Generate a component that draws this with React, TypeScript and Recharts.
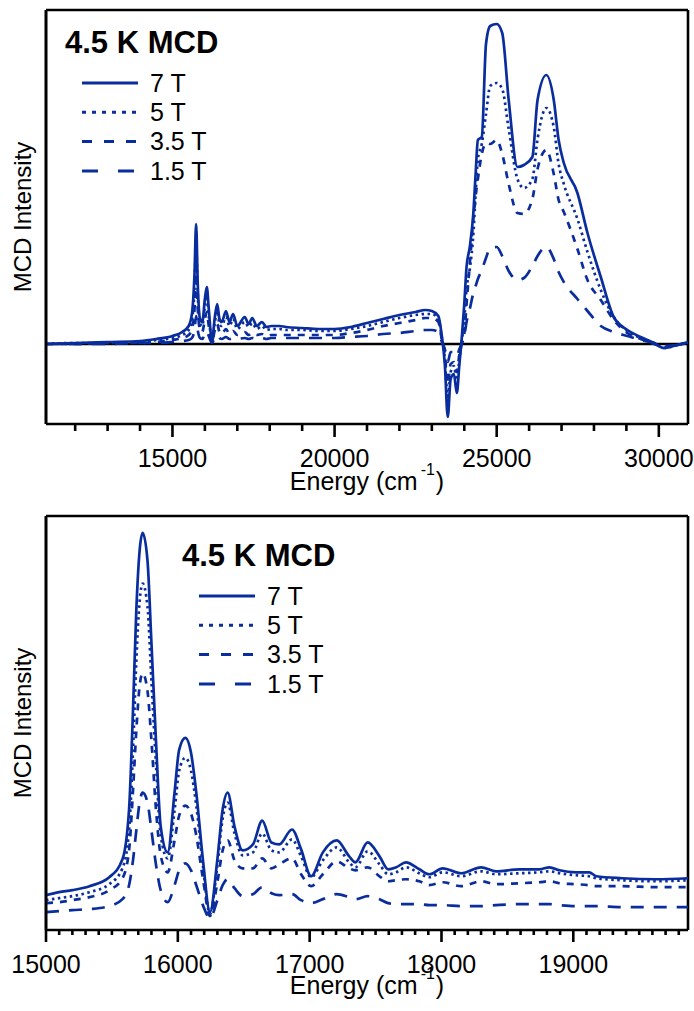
import { LineChart, Line, XAxis, YAxis, ReferenceLine, Legend } from 'recharts';

const FONT = '"Liberation Sans", Arial, sans-serif';
const BLUE = '#0a2d9e';

// upper panel, full range (cm-1) – intensity in arbitrary units, 0 = baseline
const topEnergy = [
  11100, 12000, 13000, 14000, 14500, 15000, 15300, 15500, 15600, 15680,
  15730, 15780, 15850, 15920, 16000, 16060, 16120, 16220, 16300, 16380,
  16450, 16520, 16650, 16760, 16870, 17000, 17230, 17350, 17460, 17600,
  17760, 17900, 18050, 18300, 18500, 19000, 19500, 20000, 20500, 21000,
  21500, 22000, 22500, 22800, 23000, 23200, 23300, 23400, 23490, 23580,
  23680, 23770, 23850, 23920, 24000, 24070, 24170, 24280, 24350, 24420,
  24540, 24670, 24800, 25000, 25170, 25370, 25640, 25840, 26100, 26260,
  26530, 26760, 26910, 27070, 27490, 27800, 28210, 28610, 29030, 29440,
  29850, 30150, 30570, 30900,
];
const top7T = [
  0, 1, 2, 3, 5, 8, 12, 18, 30, 70,
  120, 60, 25, 22, 45, 57, 35, 2, 25, 40,
  25, 22, 33, 22, 30, 18, 27, 20, 26, 18,
  22, 17, 18, 18, 17, 16, 15, 15, 17, 21,
  25, 29, 32, 34, 33, 28, 10, -20, -73, -35,
  -30, -49, -20, 5, 40, 77, 97, 131, 170, 204,
  207, 300, 318, 320, 311, 244, 177, 179, 187, 244,
  269, 244, 204, 181, 151, 111, 67, 27, 14, 7,
  1, -4, -1, 2,
];
const top5T = [
  0, 1, 1, 2, 4, 6, 9, 14, 24, 55,
  100, 50, 20, 18, 38, 48, 28, 2, 20, 33,
  20, 18, 27, 18, 25, 15, 22, 17, 21, 15,
  18, 14, 15, 15, 14, 14, 13, 13, 15, 18,
  22, 26, 29, 30, 30, 25, 8, -15, -55, -28,
  -22, -36, -15, 2, 25, 55, 75, 110, 150, 185,
  200, 230, 258, 261, 255, 215, 165, 156, 165, 205,
  236, 217, 180, 160, 125, 92, 54, 27, 13, 6,
  1, -4, -1, 2,
];
const top35T = [
  0, 0, 1, 1, 2, 4, 6, 9, 15, 35,
  70, 35, 14, 12, 25, 32, 18, 2, 13, 20,
  12, 10, 15, 10, 13, 9, 12, 9, 11, 9,
  10, 8, 9, 9, 9, 9, 9, 9, 11, 14,
  18, 21, 24, 26, 26, 22, 6, -10, -40, -20,
  -18, -28, -10, 1, 10, 40, 80, 125, 148, 165,
  190, 201, 200, 204, 190, 160, 131, 130, 145, 175,
  194, 170, 144, 132, 95, 64, 44, 24, 11, 5,
  0, -3, -1, 1,
];
const top15T = [
  0, 0, 0, 1, 1, 2, 3, 4, 6, 14,
  28, 14, 6, 5, 10, 13, 8, 1, 6, 9,
  6, 5, 7, 5, 6, 5, 6, 5, 6, 5,
  6, 5, 6, 6, 6, 6, 6, 6, 7, 8,
  10, 11, 13, 14, 14, 12, 3, -5, -18, -8,
  -8, -12, -5, 0, 8, 22, 35, 51, 58, 65,
  74, 86, 96, 97, 88, 73, 64, 66, 78, 88,
  97, 85, 72, 62, 45, 33, 18, 12, 8, 4,
  1, -2, -1, 0,
];

// lower panel, zoom on the 15000-20000 cm-1 progression
const bottomEnergy = [
  15000, 15100, 15200, 15330, 15480, 15580, 15630, 15660, 15685, 15710,
  15733, 15770, 15800, 15835, 15870, 15923, 15975, 16010, 16057, 16100,
  16140, 16190, 16244, 16300, 16340, 16378, 16430, 16492, 16570, 16640,
  16710, 16770, 16866, 16935, 17011, 17100, 17205, 17300, 17347, 17440,
  17530, 17595, 17656, 17731, 17832, 17908, 18009, 18150, 18300, 18414,
  18590, 18743, 18819, 18895, 19020, 19120, 19175, 19370, 19630, 19870,
];
const bottom7T = [
  35, 38, 40, 44, 53, 71, 121, 221, 321, 381,
  399, 371, 288, 188, 104, 78, 138, 181, 193, 178,
  138, 71, 18, 71, 121, 138, 104, 80, 86, 110,
  88, 86, 101, 81, 54, 78, 90, 74, 68, 88,
  74, 61, 63, 68, 61, 56, 62, 57, 63, 59,
  61, 61, 63, 60, 58, 58, 54, 52, 51, 52,
];
const bottom5T = [
  30, 32, 34, 38, 46, 62, 100, 180, 270, 330,
  348, 325, 250, 165, 95, 72, 120, 160, 173, 160,
  125, 65, 16, 65, 112, 128, 97, 75, 78, 97,
  80, 78, 91, 74, 53, 70, 83, 68, 63, 79,
  66, 56, 58, 63, 57, 53, 58, 54, 59, 56,
  57, 58, 59, 57, 55, 54, 52, 50, 49, 50,
];
const bottom35T = [
  27, 28, 30, 33, 40, 52, 80, 140, 200, 245,
  258, 240, 190, 120, 75, 58, 90, 115, 125, 117,
  95, 52, 14, 48, 80, 90, 70, 62, 62, 72,
  62, 66, 72, 56, 44, 56, 69, 62, 60, 63,
  54, 49, 50, 51, 49, 45, 48, 44, 49, 46,
  47, 48, 49, 47, 46, 45, 44, 44, 43, 43,
];
const bottom15T = [
  18, 19, 20, 21, 24, 31, 45, 70, 100, 128,
  138, 128, 100, 65, 40, 28, 45, 60, 67, 60,
  45, 25, 12, 30, 45, 51, 42, 34, 36, 43,
  37, 35, 36, 30, 27, 31, 36, 33, 31, 34,
  31, 27, 26, 26, 26, 25, 25, 24, 24, 25,
  26, 26, 26, 25, 24, 24, 24, 23, 23, 23,
];

const topMajorTicks = [15000, 20000, 25000, 30000];
const bottomMajorTicks = [15000, 16000, 17000, 18000, 19000];
const topTicks = Array.from({ length: 19 }, (_, i) => 12000 + i * 1000);
const bottomTicks = Array.from({ length: 49 }, (_, i) => 15000 + i * 100);

const SERIES = [
  { key: 't7', name: '7 T', dash: undefined, legendDash: undefined },
  { key: 't5', name: '5 T', dash: '2.5 3.5', legendDash: '4 6' },
  { key: 't35', name: '3.5 T', dash: '7 7', legendDash: '10 12' },
  { key: 't15', name: '1.5 T', dash: '13 10', legendDash: '16 20' },
];

const buildRows = (energy: number[], cols: number[][]) =>
  energy.map((e, i) => ({
    energy: e,
    t7: cols[0][i],
    t5: cols[1][i],
    t35: cols[2][i],
    t15: cols[3][i],
  }));

const topData = buildRows(topEnergy, [top7T, top5T, top35T, top15T]);
const bottomData = buildRows(bottomEnergy, [bottom7T, bottom5T, bottom35T, bottom15T]);

const EnergyTick = (props: any) => {
  const { x, y, payload, majors, majorLen, minorLen } = props;
  const isMajor = majors.includes(payload.value);
  return (
    <g>
      <line x1={x} x2={x} y1={y} y2={y + (isMajor ? majorLen : minorLen)} stroke='#000' strokeWidth={2.6} />
      {isMajor && (
        <text x={x} y={y + 43} textAnchor='middle' fontSize={25} fontFamily={FONT} fill='#000'>
          {payload.value}
        </text>
      )}
    </g>
  );
};

const makeEnergyLabel = (offset: number) => (props: any) => {
  const { x, y, width } = props.viewBox;
  return (
    <text x={x + width / 2} y={y + offset} textAnchor='middle' fontSize={25} fontFamily={FONT} fill='#000'>
      Energy (cm
      <tspan fontSize={16} dy={-15} dx={3}>-1</tspan>
      <tspan dy={15} dx={1}>)</tspan>
    </text>
  );
};

const IntensityLabel = (props: any) => {
  const { x, y, width, height } = props.viewBox;
  const cx = x + width - 24;
  const cy = y + height / 2;
  return (
    <text
      x={cx}
      y={cy}
      transform={`rotate(-90, ${cx}, ${cy})`}
      textAnchor='middle'
      dominantBaseline='central'
      fontSize={24}
      fontFamily={FONT}
      fill='#000'
    >
      MCD Intensity
    </text>
  );
};

const LegendBox = () => (
  <svg width={220} height={165} style={{ display: 'block' }}>
    <text x={5} y={31} fontSize={31} fontWeight='bold' fontFamily={FONT} fill='#000'>
      4.5 K MCD
    </text>
    {SERIES.map((s, i) => {
      const y = 61 + i * 29.3;
      return (
        <g key={s.key}>
          <line x1={22} x2={78} y1={y} y2={y} stroke={BLUE} strokeWidth={3} strokeDasharray={s.legendDash} />
          <text x={90} y={y} dy='0.35em' fontSize={25} fontFamily={FONT} fill='#000'>
            {s.name}
          </text>
        </g>
      );
    })}
  </svg>
);

type PanelProps = {
  data: any[];
  height: number;
  xDomain: [number, number];
  yDomain: [number, number];
  ticks: number[];
  majors: number[];
  majorLen: number;
  minorLen: number;
  titleOffset: number;
  legendLeft: number;
  legendTop: number;
  zeroLine?: boolean;
};

function Panel({
  data, height, xDomain, yDomain, ticks, majors, majorLen, minorLen, titleOffset, legendLeft, legendTop, zeroLine,
}: PanelProps) {
  const frame = { stroke: '#000', strokeWidth: 2.6 };
  return (
    <LineChart width={694} height={height} data={data} margin={{ top: 10, right: 6, bottom: 0, left: 6 }}>
      <XAxis
        dataKey='energy'
        type='number'
        domain={xDomain}
        allowDataOverflow
        ticks={ticks}
        interval={0}
        height={height - 10 - 414}
        tickLine={false}
        tickSize={0}
        tickMargin={0}
        axisLine={frame}
        tick={<EnergyTick majors={majors} majorLen={majorLen} minorLen={minorLen} />}
        label={makeEnergyLabel(titleOffset)}
      />
      <YAxis
        type='number'
        domain={yDomain}
        allowDataOverflow
        width={40}
        tick={false}
        tickLine={false}
        axisLine={frame}
        label={IntensityLabel}
      />
      {/* closing frame of the plot box */}
      <ReferenceLine x={xDomain[0]} stroke='#000' strokeWidth={2.6} />
      <ReferenceLine x={xDomain[1]} stroke='#000' strokeWidth={2.6} />
      <ReferenceLine y={yDomain[1]} stroke='#000' strokeWidth={2.6} />
      {zeroLine && <ReferenceLine y={0} stroke='#000' strokeWidth={2.5} />}
      {[...SERIES].reverse().map((s) => (
        <Line
          key={s.key}
          dataKey={s.key}
          name={s.name}
          type='monotone'
          stroke={BLUE}
          strokeWidth={2.7}
          strokeDasharray={s.dash}
          dot={false}
          isAnimationActive={false}
        />
      ))}
      <Legend
        layout='vertical'
        align='center'
        verticalAlign='middle'
        content={LegendBox}
        wrapperStyle={{ position: 'absolute', left: legendLeft, top: legendTop, width: 220, height: 165 }}
      />
    </LineChart>
  );
}

export default function App() {
  return (
    <div style={{ position: 'absolute', left: 0, top: 0, width: 694, height: 1011, background: '#fff' }}>
      <Panel
        data={topData}
        height={506}
        xDomain={[11100, 30900]}
        yDomain={[-80, 334]}
        ticks={topTicks}
        majors={topMajorTicks}
        majorLen={13}
        minorLen={7}
        titleOffset={66}
        legendLeft={60}
        legendTop={22}
        zeroLine
      />
      <div style={{ position: 'absolute', left: 0, top: 506 }}>
        <Panel
          data={bottomData}
          height={505}
          xDomain={[15000, 19870]}
          yDomain={[0, 416]}
          ticks={bottomTicks}
          majors={bottomMajorTicks}
          majorLen={12}
          minorLen={5}
          titleOffset={64}
          legendLeft={177}
          legendTop={29}
        />
      </div>
    </div>
  );
}
